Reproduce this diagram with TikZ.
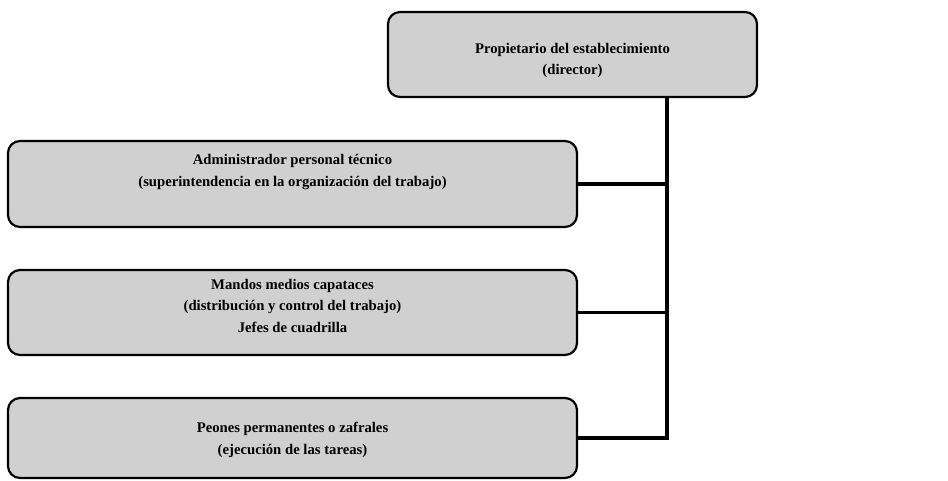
\documentclass[tikz,border=0pt]{standalone}
\usepackage{fontspec}
\setmainfont{Liberation Serif}
\usepackage{xcolor}
\usetikzlibrary{positioning,calc}
\definecolor{boxgray}{RGB}{208,208,208}

\begin{document}
\begin{tikzpicture}[x=1pt,y=-1pt,
		orgbox/.style={draw, line width=2.2pt, rounded corners=12pt, fill=boxgray, minimum height=85pt, inner sep=0pt},
		orgtext/.style={align=center, font=\fontsize{14.7}{21.5}\selectfont\bfseries},
		link/.style={line width=3.6pt}]
				\useasboundingbox (0,0) rectangle (948,481);
				% Owner
				\node[orgbox, minimum width=369pt] (owner) at (572.5,54.5) {};
				\node[orgtext] (ownertxt) at ($(owner.center)+(0,6)$) {Propietario del establecimiento\\(director)};
				
				% Administration
				\node[orgbox, minimum width=569pt, minimum height=86pt] (admin) at (292.5,184) {};
				\node[orgtext] (admintxt) at ($(admin.center)+(0,-12)$) {Administrador personal técnico\\(superintendencia en la organización del trabajo)};
				
				% Middle management
				\node[orgbox, minimum width=569pt] (mandos) at (292.5,312.5) {};
				\node[orgtext] (mandostxt) at ($(mandos.center)+(0,-7)$) {Mandos medios capataces\\(distribución y control del trabajo)\\Jefes de cuadrilla};
				
				% Workers
				\node[orgbox, minimum width=569pt, minimum height=80pt] (peones) at (292.5,438) {};
				\node[orgtext] (peonestxt) at ($(peones.center)+(0,2)$) {Peones permanentes o zafrales\\(ejecución de las tareas)};
				
				% Connections
				\coordinate (trunk) at (667,438);
				\draw[link] (owner.south -| trunk) -- (trunk) -- (peones.east);
				\draw[link] (admin.east) -- (admin.east -| trunk);
				\draw[link] (mandos.east) -- (mandos.east -| trunk);
			\end{tikzpicture}
\end{document}
